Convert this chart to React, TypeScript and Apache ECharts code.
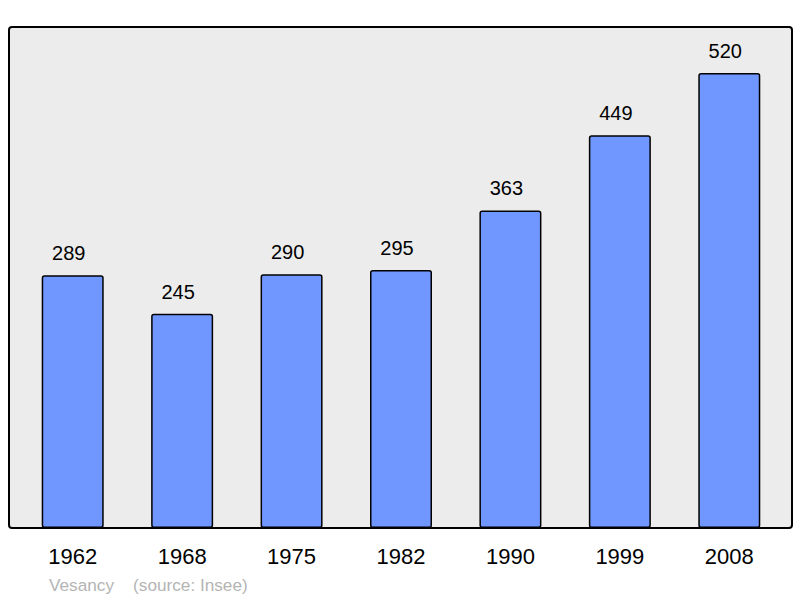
import React, { useEffect, useRef } from "react";
import * as echarts from "echarts";

const years = ["1962", "1968", "1975", "1982", "1990", "1999", "2008"];
const population = [289, 245, 290, 295, 363, 449, 520];
const sourceText = "Vesancy    (source: Insee)";

export default function App() {
  const ref = useRef<HTMLDivElement>(null);
  useEffect(() => {
    const chart = echarts.init(ref.current!, null, { renderer: "svg" });
    chart.setOption({
      animation: false,
      backgroundColor: "#ffffff",
      graphic: [
        {
          type: "rect",
          z: -10,
          shape: { x: 9, y: 27, width: 783, height: 501, r: 3 },
          style: { fill: "#ececec", stroke: "#000000", lineWidth: 2 },
        },
        {
          type: "text",
          left: 49,
          top: 576,
          style: {
            text: sourceText,
            fill: "#b4b4b4",
            font: "17.2px 'Liberation Sans', Arial, sans-serif",
          },
        },
      ],
      grid: { left: 18, right: 16, top: 73, bottom: 70 },
      xAxis: {
        type: "category",
        data: years,
        axisLine: { show: false },
        axisTick: { show: false },
        axisLabel: {
          color: "#000",
          fontSize: 22,
          fontFamily: "'Liberation Sans', Arial, sans-serif",
          margin: 17,
        },
      },
      yAxis: {
        type: "value",
        min: 0,
        max: 520,
        show: false,
        splitLine: { show: false },
      },
      series: [
        {
          type: "bar",
          data: population,
          barWidth: 62,
          itemStyle: {
            color: "#7097ff",
            borderColor: "#000",
            borderWidth: 1.5,
            borderRadius: 2,
          },
          label: {
            show: true,
            position: "top",
            distance: 12,
            offset: [-4, 0],
            color: "#000",
            fontSize: 20,
            fontFamily: "'Liberation Sans', Arial, sans-serif",
          },
        },
      ],
    });
    return () => chart.dispose();
  }, []);
  return (
    <div
      ref={ref}
      style={{ position: "absolute", left: 0, top: 0, width: 800, height: 598 }}
    />
  );
}
